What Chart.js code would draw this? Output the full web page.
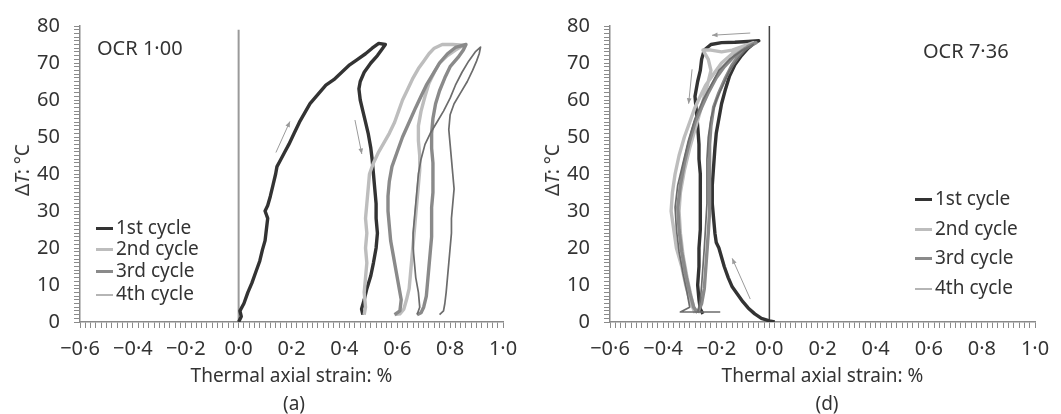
<!DOCTYPE html>
<html lang="en">
<head>
<meta charset="UTF-8">
<title>Thermal axial strain</title>
<script src="https://cdn.jsdelivr.net/npm/chart.js"></script>
<style>
  body { margin: 0; background: #fff; font-family: "Noto Sans", sans-serif; color: #333; }
  .panel { position: absolute; top: 0; width: 531px; height: 414px; }
  .panel canvas { position: absolute; left: 0; top: 0; }
  .ytitle { position: absolute; font-size: 19px; white-space: nowrap; transform: translate(-50%, -50%) rotate(-90deg); }
  .ocr { position: absolute; font-size: 20px; white-space: nowrap; transform: translateY(-50%); }
  .caption { position: absolute; font-size: 19px; transform: translate(-50%, -50%); }
  .legend { position: absolute; font-size: 19px; }
  .legend div { position: absolute; left: 0; white-space: nowrap; transform: translateY(-50%); }
  .legend span { display: inline-block; width: 17px; vertical-align: middle; margin-right: 3px; }
</style>
</head>
<body>
<div class="panel" id="panel-a" style="left:0">
  <canvas id="chart-a" width="530" height="414"></canvas>
  <div class="ytitle" style="left:22px;top:170px">Δ<i>T</i>: °C</div>
  <div class="ocr" style="left:97px;top:47px">OCR 1·00</div>
  <div class="legend" id="legend-a" style="left:96px;top:0"></div>
  <div class="caption" style="left:294px;top:403px">(a)</div>
</div>
<div class="panel" id="panel-d" style="left:530px">
  <canvas id="chart-d" width="531" height="414"></canvas>
  <div class="ytitle" style="left:22px;top:170px">Δ<i>T</i>: °C</div>
  <div class="ocr" style="left:393px;top:50px">OCR 7·36</div>
  <div class="legend" id="legend-d" style="left:385px;top:0"></div>
  <div class="caption" style="left:297px;top:403px">(d)</div>
</div>
<script>
  // series names
  const cycleNames = ['1st cycle', '2nd cycle', '3rd cycle', '4th cycle']

  // OCR 1.00 — [strain %, delta T]
  const ocr100_cycle1 = [
    [0.0, 0], [0.01, 1.5], [0.005, 3], [0.02, 5], [0.035, 8], [0.05, 10.5], [0.065, 13.5],
    [0.08, 16.5], [0.09, 19.5], [0.1, 22], [0.105, 25], [0.11, 28], [0.1, 30], [0.11, 31.5],
    [0.12, 34], [0.13, 37], [0.14, 40], [0.145, 42], [0.16, 44], [0.175, 46], [0.19, 48],
    [0.21, 51], [0.23, 54], [0.25, 56.5], [0.27, 59], [0.3, 61.5], [0.33, 64], [0.36, 65.5],
    [0.39, 67.5], [0.42, 69.5], [0.45, 71], [0.48, 72.5], [0.505, 74], [0.53, 75.3], [0.555, 75],
    [0.545, 74], [0.525, 72], [0.5, 70], [0.475, 67.5], [0.46, 65], [0.455, 63], [0.46, 60],
    [0.47, 57], [0.48, 54], [0.49, 51], [0.5, 47], [0.505, 44], [0.51, 40], [0.515, 36],
    [0.52, 32], [0.52, 28], [0.525, 24], [0.52, 20], [0.51, 16], [0.5, 12.5], [0.485, 9],
    [0.475, 6], [0.465, 3.5], [0.47, 2]
  ]
  const ocr100_cycle2 = [
    [0.475, 2], [0.48, 4], [0.475, 8], [0.48, 12], [0.485, 16], [0.48, 20], [0.485, 24],
    [0.48, 28], [0.485, 32], [0.49, 36], [0.495, 40], [0.51, 43], [0.53, 46], [0.55, 48.5],
    [0.57, 51], [0.59, 54], [0.605, 57], [0.62, 60], [0.64, 63], [0.66, 66], [0.68, 68.5],
    [0.7, 70.5], [0.72, 72.5], [0.74, 74], [0.77, 75], [0.81, 75], [0.85, 74.8],
    [0.82, 73.5], [0.79, 72], [0.76, 70], [0.74, 67.5], [0.72, 64.5], [0.705, 61], [0.69, 57],
    [0.68, 53], [0.68, 49], [0.685, 45], [0.685, 41], [0.68, 37], [0.675, 33], [0.67, 29],
    [0.665, 25], [0.66, 21], [0.655, 17], [0.65, 13], [0.645, 9], [0.635, 6], [0.625, 3.5],
    [0.61, 2.2], [0.59, 2]
  ]
  const ocr100_cycle3 = [
    [0.59, 2], [0.61, 3], [0.615, 6], [0.605, 10], [0.595, 14], [0.585, 18], [0.575, 22],
    [0.57, 26], [0.565, 30], [0.565, 34], [0.57, 38], [0.58, 42], [0.6, 46], [0.62, 50],
    [0.645, 54], [0.67, 58], [0.69, 61], [0.71, 64], [0.735, 67], [0.76, 70], [0.79, 72.5],
    [0.82, 74.2], [0.86, 75],
    [0.85, 73.5], [0.83, 71.5], [0.8, 69], [0.78, 66], [0.76, 62.5], [0.745, 59], [0.735, 55],
    [0.73, 51], [0.73, 47], [0.735, 43], [0.735, 39], [0.735, 35], [0.73, 31], [0.73, 27],
    [0.73, 23], [0.725, 19], [0.72, 15], [0.715, 11], [0.71, 7], [0.7, 4], [0.69, 2.5], [0.675, 2]
  ]
  const ocr100_cycle4 = [
    [0.675, 2], [0.685, 4], [0.68, 8], [0.67, 12], [0.665, 16], [0.66, 20], [0.66, 24],
    [0.665, 28], [0.67, 32], [0.675, 36], [0.68, 40], [0.69, 44], [0.705, 48], [0.725, 51],
    [0.75, 54], [0.775, 57], [0.8, 60.5], [0.82, 64], [0.845, 67.5], [0.87, 70.5], [0.895, 73],
    [0.915, 74.3],
    [0.91, 72.5], [0.9, 70.5], [0.885, 68], [0.865, 65], [0.84, 62], [0.815, 59], [0.8, 56],
    [0.795, 52], [0.8, 48], [0.805, 44], [0.81, 40], [0.815, 36], [0.81, 32], [0.805, 28],
    [0.805, 24], [0.8, 20], [0.795, 16], [0.79, 12], [0.785, 8], [0.78, 5], [0.775, 3], [0.76, 2]
  ]

  // OCR 7.36
  const ocr736_cycle1 = [
    [0.02, 0], [0.0, 0.3], [-0.03, 1], [-0.055, 2.2], [-0.08, 3.8], [-0.1, 5.5], [-0.12, 7.5],
    [-0.14, 9.5], [-0.155, 12], [-0.17, 15], [-0.18, 17.5], [-0.19, 20], [-0.2, 21.5],
    [-0.205, 24], [-0.21, 28], [-0.215, 32], [-0.215, 37], [-0.21, 42], [-0.205, 47], [-0.2, 51],
    [-0.19, 55], [-0.18, 59], [-0.165, 63], [-0.15, 66.5], [-0.13, 69.5], [-0.105, 72],
    [-0.08, 74], [-0.055, 75.5], [-0.04, 76],
    [-0.08, 75.8], [-0.13, 75.6], [-0.18, 75.5], [-0.22, 75], [-0.245, 73.5], [-0.255, 71],
    [-0.26, 68], [-0.27, 65], [-0.28, 61], [-0.275, 57], [-0.27, 53], [-0.265, 48], [-0.265, 44],
    [-0.26, 40], [-0.26, 35], [-0.26, 30], [-0.26, 25], [-0.265, 20], [-0.265, 15], [-0.27, 10],
    [-0.265, 6], [-0.26, 3.5], [-0.25, 2.2]
  ]
  const ocr736_cycle2 = [
    [-0.28, 2.5], [-0.3, 6], [-0.315, 10], [-0.33, 15], [-0.35, 20], [-0.36, 25], [-0.37, 30],
    [-0.365, 35], [-0.355, 40], [-0.34, 45], [-0.32, 50], [-0.3, 54], [-0.28, 58], [-0.26, 61],
    [-0.24, 64], [-0.21, 67], [-0.18, 70], [-0.14, 72.5], [-0.1, 74.5], [-0.06, 75.5],
    [-0.1, 74.5], [-0.14, 73.5], [-0.18, 73], [-0.22, 73.5], [-0.25, 73.5], [-0.23, 71],
    [-0.22, 68], [-0.23, 65], [-0.245, 61], [-0.26, 57], [-0.28, 52], [-0.3, 47], [-0.32, 41],
    [-0.335, 35], [-0.34, 30], [-0.335, 24], [-0.325, 18], [-0.31, 12], [-0.295, 7],
    [-0.285, 4], [-0.275, 2.5]
  ]
  const ocr736_cycle3 = [
    [-0.27, 2.5], [-0.255, 5], [-0.245, 9], [-0.24, 14], [-0.235, 19], [-0.23, 24], [-0.225, 30],
    [-0.225, 36], [-0.225, 42], [-0.225, 48], [-0.22, 53], [-0.21, 58], [-0.19, 62],
    [-0.165, 66], [-0.14, 69.5], [-0.11, 72.5], [-0.08, 74.5], [-0.05, 75.5],
    [-0.09, 74], [-0.13, 72], [-0.17, 69], [-0.2, 66], [-0.23, 62], [-0.255, 58], [-0.28, 54],
    [-0.3, 49], [-0.32, 43], [-0.335, 37], [-0.345, 31], [-0.34, 25], [-0.33, 19], [-0.315, 13],
    [-0.3, 8], [-0.285, 4], [-0.27, 2.5]
  ]
  const ocr736_cycle4 = [
    [-0.27, 2.5], [-0.26, 6], [-0.255, 10], [-0.25, 15], [-0.245, 20], [-0.24, 26], [-0.235, 32],
    [-0.235, 38], [-0.235, 44], [-0.23, 50], [-0.22, 55], [-0.2, 60], [-0.175, 64], [-0.15, 68],
    [-0.12, 71], [-0.09, 73.5], [-0.06, 75],
    [-0.1, 73.5], [-0.15, 71], [-0.19, 68], [-0.22, 64], [-0.25, 60], [-0.28, 55], [-0.305, 49],
    [-0.325, 43], [-0.345, 37], [-0.355, 31], [-0.35, 25], [-0.34, 19], [-0.325, 13],
    [-0.31, 8], [-0.3, 4], [-0.335, 2.7], [-0.185, 2.7]
  ]

  // direction arrows: [fromX, fromY, toX, toY]
  const arrowsA = [[0.141, 45.8, 0.194, 54.2], [0.44, 54.6, 0.466, 45.4]]
  const arrowsD = [[-0.072, 78.1, -0.216, 77.5], [-0.291, 68.3, -0.304, 59], [-0.072, 6.2, -0.14, 17.2]]

  // axis ranges
  const strainRange = [-0.6, 1.0]
  const tempRange = [0, 80]

  const lineStyles = [
    { color: '#333333', width: 3.4 },
    { color: '#bdbdbd', width: 3.4 },
    { color: '#8a8a8a', width: 3.4 },
    { color: '#6c6c6c', width: 1.7 },
  ]

  const toXY = (pts) => pts.map((p) => ({ x: p[0], y: p[1] }))

  function fmtStrain(v) {
    if (Math.abs(v * 5 - Math.round(v * 5)) > 1e-6) return ''
    const s = Math.abs(v).toFixed(1).replace('.', '·')
    return v < -1e-9 ? '−' + s : s
  }

  const arrowPlugin = {
    id: 'arrows',
    afterDatasetsDraw(chart, args, opts) {
      const { ctx, scales } = chart
      ctx.save()
      ctx.strokeStyle = '#9a9a9a'
      ctx.fillStyle = '#9a9a9a'
      ctx.lineWidth = 1
      ;(opts.list || []).forEach((a) => {
        const x1 = scales.x.getPixelForValue(a[0])
        const y1 = scales.y.getPixelForValue(a[1])
        const x2 = scales.x.getPixelForValue(a[2])
        const y2 = scales.y.getPixelForValue(a[3])
        const ang = Math.atan2(y2 - y1, x2 - x1)
        ctx.beginPath()
        ctx.moveTo(x1, y1)
        ctx.lineTo(x2, y2)
        ctx.stroke()
        ctx.beginPath()
        ctx.moveTo(x2, y2)
        ctx.lineTo(x2 - 6 * Math.cos(ang - 0.4), y2 - 6 * Math.sin(ang - 0.4))
        ctx.lineTo(x2 - 6 * Math.cos(ang + 0.4), y2 - 6 * Math.sin(ang + 0.4))
        ctx.closePath()
        ctx.fill()
      })
      ctx.restore()
    },
  }

  function makeChart(id, cycles, arrows, zeroLine, padRight) {
    const datasets = cycles.map((pts, i) => ({
      label: cycleNames[i],
      data: toXY(pts),
      showLine: true,
      borderColor: lineStyles[i].color,
      borderWidth: lineStyles[i].width,
      pointRadius: 0,
      borderJoinStyle: 'round',
      tension: 0,
      order: 4 - i,
    }))
    // vertical line at zero strain
    datasets.push({
      label: 'zero',
      data: [{ x: 0, y: tempRange[0] }, { x: 0, y: zeroLine.top }],
      showLine: true,
      borderColor: zeroLine.color,
      borderWidth: zeroLine.width,
      pointRadius: 0,
      order: 10,
    })

    const tickFont = { family: 'Noto Sans', size: 20 }
    return new Chart(document.getElementById(id), {
      type: 'scatter',
      data: { datasets },
      plugins: [arrowPlugin],
      options: {
        responsive: false,
        animation: false,
        layout: { padding: { left: 0, right: padRight, top: 19, bottom: 0 } },
        plugins: {
          legend: { display: false },
          tooltip: { enabled: false },
          arrows: { list: arrows },
        },
        scales: {
          x: {
            type: 'linear',
            min: strainRange[0],
            max: strainRange[1],
            afterFit: (s) => { s.height = 92 },
            border: { color: '#8a8a8a', width: 1.5 },
            grid: { drawOnChartArea: false, tickLength: 6, tickColor: '#8a8a8a', tickWidth: 1 },
            ticks: {
              stepSize: 0.02,
              autoSkip: false,
              maxRotation: 0,
              minRotation: 0,
              padding: 9,
              color: '#333',
              font: tickFont,
              callback: (v) => fmtStrain(v),
            },
            title: {
              display: true,
              text: 'Thermal axial strain: %',
              color: '#333',
              font: { family: 'Noto Sans', size: 19 },
              padding: { top: 0, bottom: 26 },
            },
          },
          y: {
            type: 'linear',
            min: tempRange[0],
            max: tempRange[1],
            afterFit: (s) => { s.width = 80 },
            border: { color: '#8a8a8a', width: 1.5 },
            grid: { drawOnChartArea: false, tickLength: 6, tickColor: '#8a8a8a', tickWidth: 1 },
            ticks: {
              stepSize: 1,
              autoSkip: false,
              padding: 14,
              color: '#333',
              font: tickFont,
              callback: (v) => (Math.abs(v % 10) < 1e-9 ? String(v) : ''),
            },
          },
        },
      },
    })
  }

  function makeLegend(id, rowTops) {
    const box = document.getElementById(id)
    cycleNames.forEach((name, i) => {
      const row = document.createElement('div')
      row.style.top = rowTops[i] + 'px'
      const mark = document.createElement('span')
      mark.style.height = '0px'
      mark.style.borderTop = Math.round(lineStyles[i].width) + 'px solid ' + (i === 3 ? '#b5b5b5' : lineStyles[i].color)
      row.appendChild(mark)
      row.appendChild(document.createTextNode(name))
      box.appendChild(row)
    })
  }

  makeChart('chart-a', [ocr100_cycle1, ocr100_cycle2, ocr100_cycle3, ocr100_cycle4], arrowsA,
    { top: 79, color: '#9a9a9a', width: 2 }, 27)
  makeChart('chart-d', [ocr736_cycle1, ocr736_cycle2, ocr736_cycle3, ocr736_cycle4], arrowsD,
    { top: 80, color: '#444', width: 1.5 }, 26)

  makeLegend('legend-a', [227, 248, 270, 293])
  makeLegend('legend-d', [198, 228, 257, 287])
</script>
</body>
</html>
